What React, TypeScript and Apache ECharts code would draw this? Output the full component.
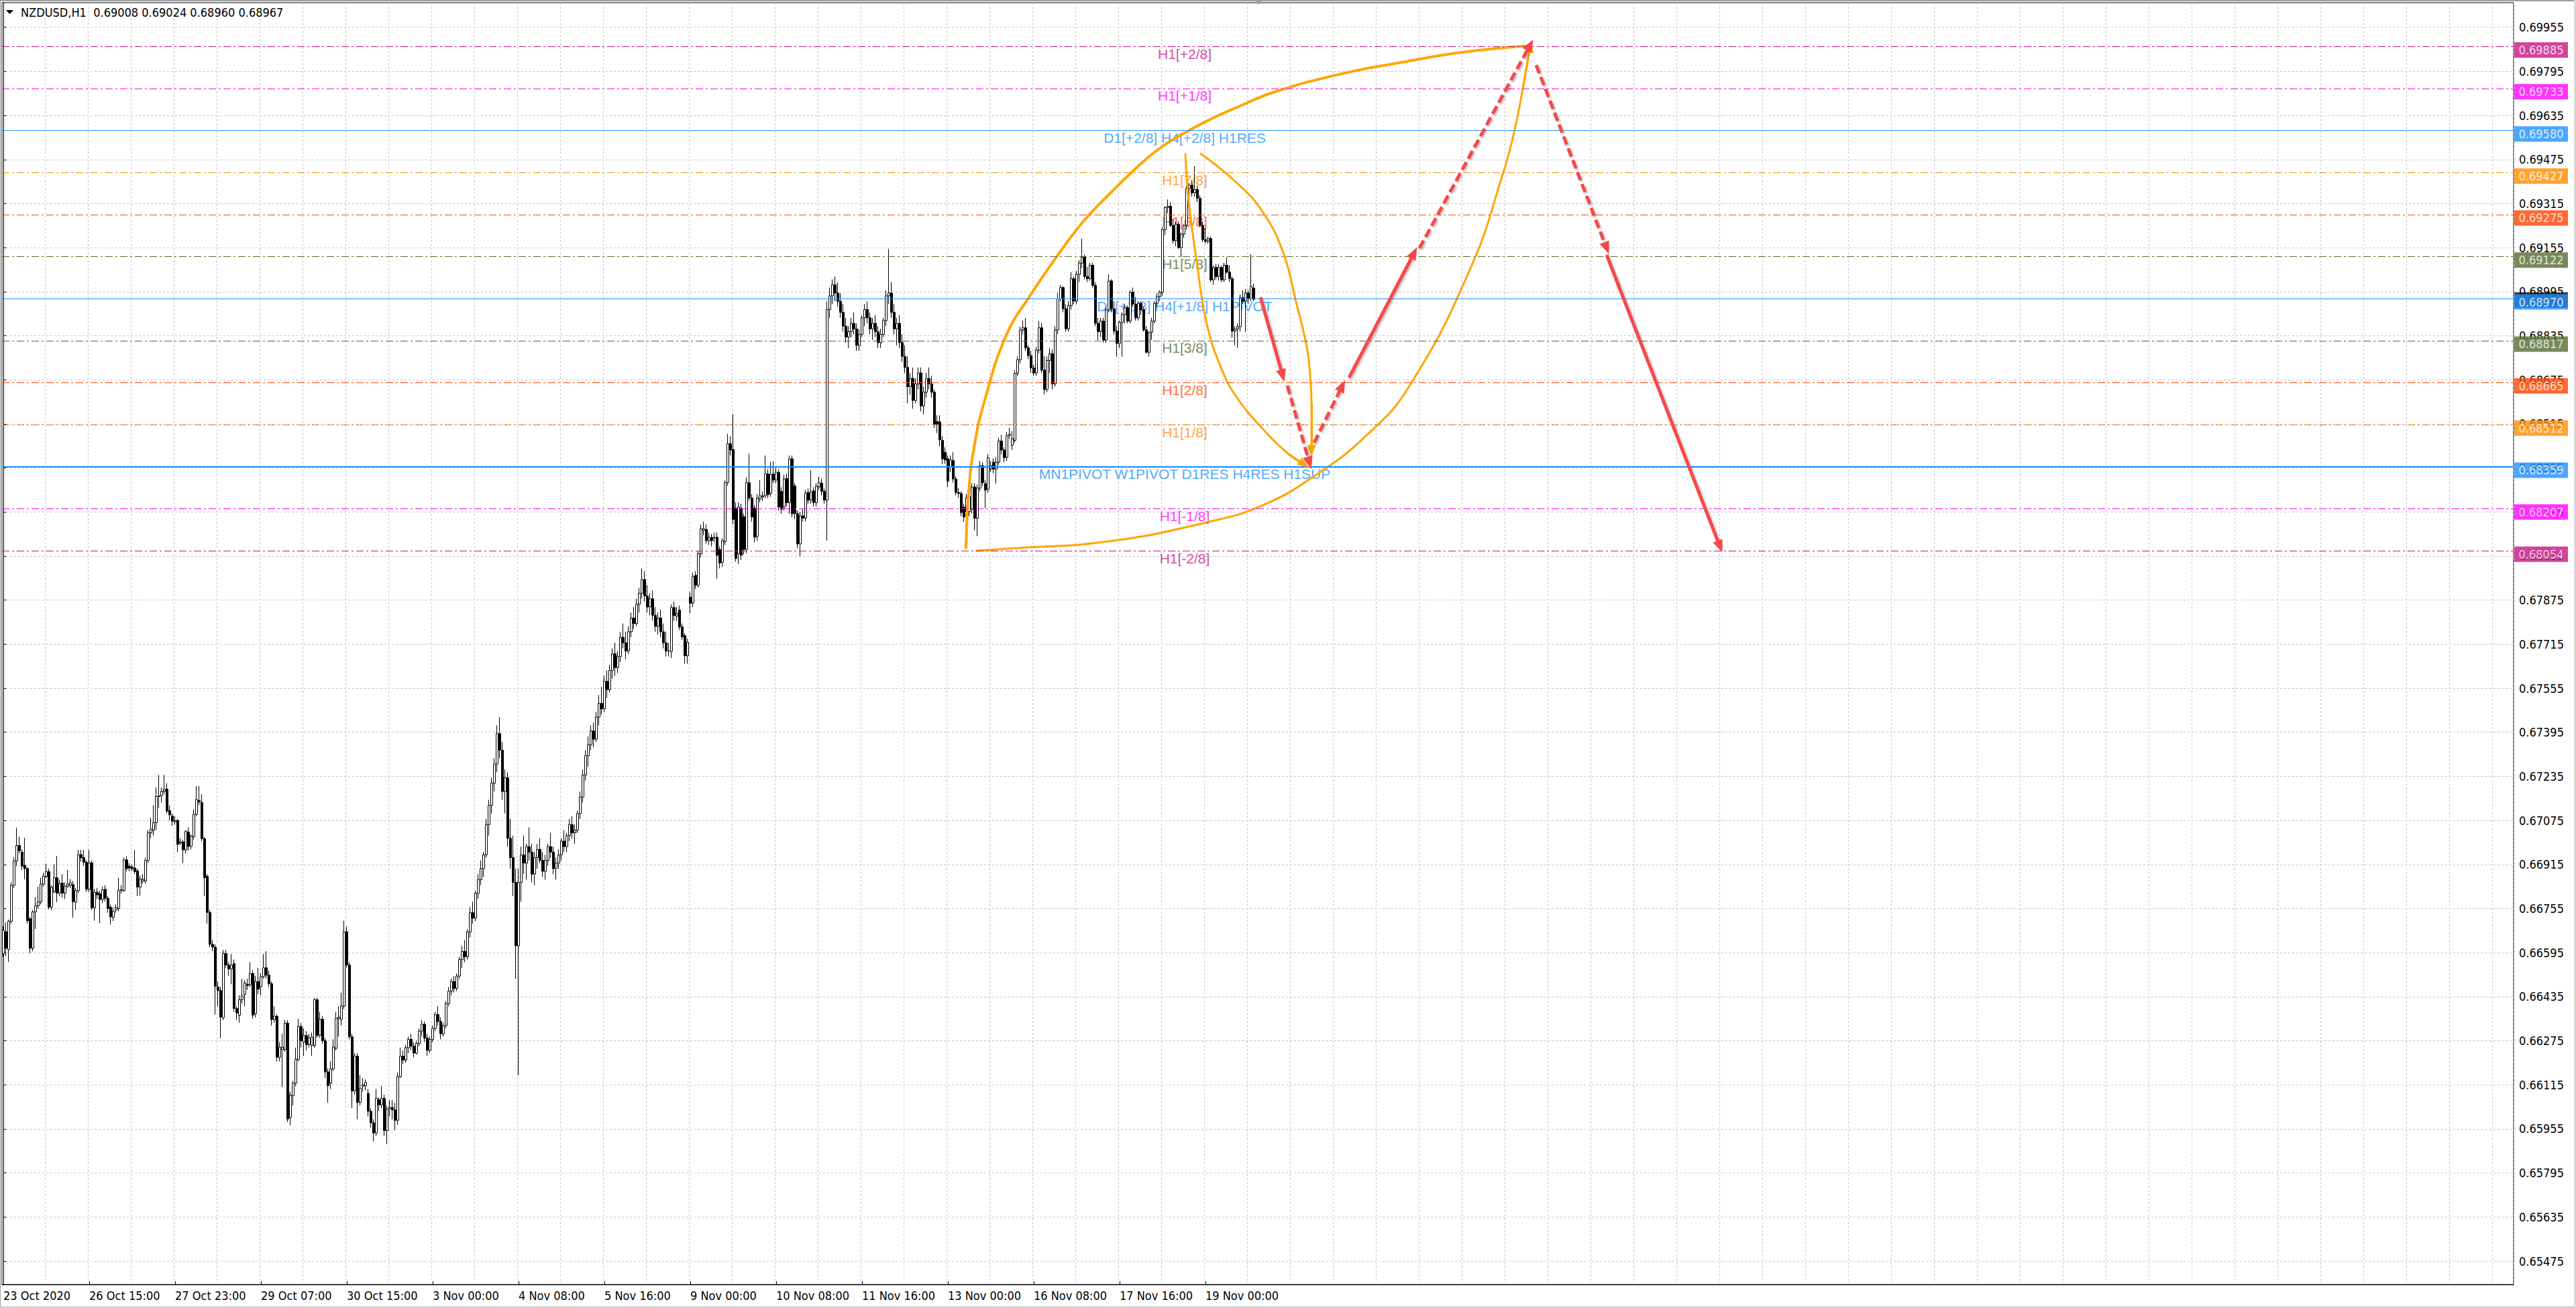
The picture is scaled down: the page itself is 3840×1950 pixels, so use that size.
import React, { useEffect, useRef } from 'react';
import * as echarts from 'echarts';

// ---------- DATA (prices in 1e-5 units: [open, high, low, close]) ----------
// 23 Oct 07:00 .. 2 Nov (bars 0-148)
const barsOct = [
  [66592,66690,66580,66676],[66671,66704,66583,66611],[66606,66715,66561,66709],[66709,66850,66700,66839],
  [66839,66942,66830,66928],[66928,67049,66909,66984],[66984,67016,66955,66965],[66960,66970,66895,66909],
  [66912,67012,66862,66900],[66900,66905,66700,66711],[66718,66725,66592,66611],[66611,66750,66600,66743],
  [66743,66797,66681,66765],[66765,66834,66755,66779],[66779,66867,66770,66844],[66844,66885,66835,66872],
  [66872,66918,66865,66889],[66889,66900,66752,66760],[66760,66840,66750,66833],[66816,66916,66810,66867],
  [66867,66946,66779,66811],[66811,66860,66800,66846],[66848,66880,66795,66811],[66811,66850,66790,66836],
  [66836,66895,66830,66844],[66839,66862,66830,66848],[66842,66855,66722,66780],[66778,66830,66750,66820],
  [66820,66968,66812,66951],[66951,66968,66925,66939],[66940,66968,66910,66923],[66923,66930,66815,66825],
  [66825,66968,66815,66921],[66921,66930,66750,66758],[66758,66825,66711,66814],[66814,66830,66790,66805],
  [66809,66820,66702,66788],[66788,66835,66775,66823],[66825,66840,66780,66792],[66792,66800,66740,66755],
  [66760,66770,66697,66725],[66723,66760,66710,66745],[66750,66770,66740,66758],[66755,66867,66745,66822],
  [66821,66840,66810,66823],[66821,66940,66815,66932],[66932,66945,66890,66900],[66909,66920,66890,66902],
  [66906,66915,66890,66900],[66902,66968,66880,66889],[66892,66900,66800,66833],[66833,66875,66802,66862],
  [66855,66880,66845,66862],[66855,66940,66845,66930],[66930,67040,66920,67030],[67030,67085,67010,67043],
  [67040,67130,67020,67067],[67067,67195,67040,67162],[67162,67240,67120,67165],[67165,67195,67140,67181],
  [67181,67240,67170,67189],[67189,67210,67100,67109],[67111,67130,67075,67095],[67091,67100,67055,67072],
  [67070,67090,67060,67074],[67075,67080,66960,66988],[66993,67010,66985,66997],[66997,67005,66920,66968],
  [66968,67040,66955,67035],[67033,67050,66965,66981],[66981,67025,66970,67018],[67016,67115,67005,67097],
  [67097,67200,67090,67151],[67147,67200,67130,67142],[67140,67170,67000,67009],[67009,67015,66800,66867],
  [66872,66880,66700,66741],[66741,66750,66615,66625],[66625,66640,66600,66615],[66615,66625,66370,66473],
  [66470,66490,66400,66457],[66457,66470,66285,66361],[66359,66605,66350,66592],[66592,66605,66540,66550],
  [66550,66560,66510,66536],[66536,66590,66480,66550],[66555,66570,66380,66392],[66392,66400,66350,66376],
  [66368,66440,66340,66424],[66424,66500,66410,66438],[66443,66495,66400,66485],[66480,66500,66460,66476],
  [66478,66560,66470,66519],[66519,66530,66355,66368],[66373,66510,66360,66490],[66490,66540,66445,66462],
  [66471,66520,66440,66508],[66508,66590,66500,66540],[66540,66600,66500,66513],[66513,66530,66470,66482],
  [66482,66490,66330,66352],[66352,66400,66340,66364],[66364,66370,66200,66215],[66215,66270,66200,66252],
  [66243,66300,66107,66252],[66243,66350,66235,66339],[66339,66350,65980,65991],[65996,66090,65968,66078],
  [66075,66130,66040,66121],[66121,66250,66110,66208],[66206,66355,66200,66327],[66327,66340,66250,66275],
  [66270,66320,66220,66294],[66294,66310,66240,66261],[66261,66300,66250,66286],[66258,66305,66220,66289],
  [66257,66430,66250,66424],[66424,66430,66285,66294],[66294,66380,66285,66353],[66353,66365,66265,66275],
  [66275,66285,66140,66162],[66162,66175,66050,66112],[66121,66200,66100,66173],[66173,66280,66165,66252],
  [66247,66380,66240,66357],[66355,66400,66290,66361],[66352,66450,66330,66401],[66401,66711,66390,66671],
  [66671,66690,66540,66550],[66550,66560,66280,66289],[66289,66300,66030,66093],[66093,66230,66080,66219],
  [66219,66230,65990,66051],[66051,66150,66040,66103],[66110,66140,66090,66115],[66111,66135,66095,66124],
  [66084,66100,66000,66019],[66019,66030,65960,65977],[65977,65990,65910,65940],[65940,66100,65930,66066],
  [66061,66070,66020,66042],[66042,66110,66030,66066],[66066,66080,65930,65949],[65949,66040,65900,66028],
  [66028,66060,66000,66033],[66033,66060,65990,66024],[66024,66050,65950,65986],[65986,66160,65970,66145],
  [66145,66250,66140,66219],
];
// 2 Nov .. 6 Nov (bars 149-248)
const barsElection = [
  [66219,66240,66190,66205],[66205,66260,66195,66250],[66250,66290,66230,66280],[66280,66300,66240,66255],
  [66255,66270,66215,66230],[66230,66275,66225,66265],[66265,66320,66255,66310],[66310,66350,66290,66335],
  [66335,66345,66270,66285],[66285,66300,66220,66240],[66240,66290,66230,66280],[66280,66330,66270,66320],
  [66320,66380,66310,66370],[66370,66400,66330,66345],[66345,66360,66280,66300],[66300,66340,66290,66330],
  [66330,66420,66320,66410],[66410,66470,66400,66455],[66455,66500,66440,66490],[66490,66510,66450,66465],
  [66465,66520,66455,66510],[66510,66580,66500,66570],[66570,66620,66540,66600],[66600,66640,66560,66580],
  [66580,66680,66570,66670],[66670,66760,66650,66740],[66740,66780,66700,66720],[66720,66820,66710,66810],
  [66810,66880,66790,66860],[66860,66930,66840,66900],[66900,66960,66870,66950],[66950,67080,66940,67060],
  [67060,67150,67020,67130],[67130,67230,67100,67210],[67210,67300,67180,67280],[67280,67420,67250,67390],
  [67390,67450,67300,67330],[67330,67360,67150,67180],[67180,67260,67100,67230],[67230,67250,66980,67010],
  [67010,67080,66900,66940],[66940,67020,66800,66850],[66850,66900,66500,66620],[66620,66900,66150,66850],
  [66850,66980,66780,66950],[66950,67020,66880,66920],[66920,66990,66860,66980],[66980,67050,66930,66960],
  [66960,66990,66850,66880],[66880,66960,66840,66940],[66940,66990,66900,66970],[66970,67010,66920,66930],
  [66930,66960,66870,66890],[66890,66950,66860,66930],[66930,66990,66910,66980],[66980,67030,66940,66960],
  [66960,66980,66880,66900],[66900,66940,66860,66920],[66920,66970,66900,66950],[66950,67010,66930,67000],
  [67000,67040,66960,66980],[66980,67030,66960,67020],[67020,67080,67000,67060],[67060,67090,67010,67030],
  [67030,67060,66990,67040],[67040,67110,67030,67100],[67100,67180,67080,67160],[67160,67260,67140,67240],
  [67240,67330,67220,67310],[67310,67380,67270,67350],[67350,67420,67330,67400],[67400,67430,67340,67370],
  [67370,67470,67360,67450],[67450,67530,67420,67500],[67500,67560,67460,67480],[67480,67600,67470,67580],
  [67580,67620,67520,67550],[67550,67640,67540,67620],[67620,67700,67590,67680],[67680,67720,67600,67630],
  [67630,67690,67610,67670],[67670,67760,67650,67740],[67740,67790,67700,67720],[67720,67760,67660,67690],
  [67690,67780,67680,67760],[67760,67830,67740,67810],[67810,67850,67770,67790],[67790,67880,67780,67860],
  [67860,67920,67830,67900],[67900,67990,67880,67950],[67950,67980,67870,67890],[67890,67930,67830,67850],
  [67850,67900,67820,67880],[67880,67910,67800,67820],[67820,67850,67760,67780],[67780,67830,67750,67810],
  [67810,67840,67740,67760],[67760,67790,67700,67720],[67720,67760,67670,67690],[67690,67720,67670,67690],
];
// 6 Nov .. 12 Nov (bars 249-346)
const barsVaccine = [
  [67689,67860,67665,67848],[67848,67870,67800,67819],[67817,67850,67800,67827],[67839,67855,67766,67778],
  [67778,67790,67730,67742],[67746,67755,67644,67673],[67673,67735,67644,67722],[67886,67904,67827,67864],
  [67864,67975,67850,67961],[67965,67980,67915,67929],[67929,68055,67920,68043],[68043,68150,68030,68134],
  [68128,68160,68110,68134],[68132,68150,68080,68091],[68091,68120,68075,68103],[68103,68115,68070,68091],
  [68101,68120,68085,68103],[68103,68120,67953,68038],[68059,68070,67990,68010],[68012,68100,67995,68091],
  [68087,68310,68075,68302],[68302,68479,68290,68443],[68443,68470,68400,68420],[68422,68550,68150,68168],
  [68209,68230,68014,68026],[68043,68230,68006,68213],[68209,68225,68020,68038],[68178,68190,68040,68059],
  [68059,68320,68045,68302],[68301,68407,68235,68246],[68246,68260,68160,68177],[68209,68220,68085,68103],
  [68107,68260,68090,68246],[68242,68311,68230,68254],[68250,68270,68235,68254],[68254,68400,68245,68335],
  [68333,68350,68245,68258],[68262,68377,68250,68331],[68333,68379,68300,68311],[68311,68355,68300,68339],
  [68339,68350,68200,68213],[68270,68285,68189,68205],[68213,68330,68200,68315],[68317,68335,68215,68229],
  [68229,68400,68189,68388],[68388,68400,68175,68189],[68290,68300,68170,68189],[68189,68200,68063,68079],
  [68079,68195,68034,68181],[68181,68205,68160,68173],[68173,68275,68160,68264],[68266,68280,68225,68238],
  [68238,68347,68225,68268],[68272,68285,68215,68229],[68229,68300,68215,68288],[68286,68323,68275,68302],
  [68300,68315,68255,68270],[68270,68280,68225,68238],[68238,68960,68091,68930],[68930,69010,68900,68980],
  [68980,69040,68950,69020],[69020,69050,68960,68990],[68990,69030,68940,68960],[68960,68990,68900,68920],
  [68920,68950,68850,68870],[68870,68900,68810,68830],[68830,68870,68790,68850],[68850,68900,68830,68880],
  [68880,68920,68840,68860],[68860,68880,68780,68800],[68800,68860,68780,68840],[68840,68910,68830,68900],
  [68900,68950,68870,68930],[68930,68960,68880,68900],[68900,68920,68840,68860],[68860,68900,68820,68880],
  [68880,68910,68830,68850],[68850,68870,68790,68810],[68810,68860,68790,68840],[68840,68900,68830,68890],
  [68890,69000,68870,68980],[68980,69150,68950,68990],[68990,69030,68900,68920],[68920,68950,68840,68860],
  [68860,68900,68800,68880],[68880,68910,68790,68810],[68810,68840,68740,68760],[68760,68800,68700,68720],
  [68720,68760,68590,68650],[68650,68700,68620,68680],[68680,68720,68570,68600],[68600,68680,68590,68660],
  [68660,68720,68640,68700],[68700,68720,68560,68580],[68580,68650,68550,68630],[68630,68700,68610,68680],
  [68680,68720,68640,68660],[68660,68690,68610,68630],
];
// 12 Nov .. 19 Nov 18:00 (bars 347-466)
const barsNov = [
  [68630,68640,68500,68514],[68524,68546,68481,68514],[68522,68546,68433,68457],[68455,68470,68368,68388],
  [68412,68430,68370,68384],[68388,68400,68286,68307],[68359,68400,68340,68384],[68382,68412,68302,68315],
  [68315,68325,68255,68266],[68266,68282,68246,68262],[68262,68270,68180,68193],[68213,68225,68160,68177],
  [68197,68260,68067,68246],[68197,68270,68180,68250],[68205,68300,68190,68286],[68286,68300,68128,68172],
  [68172,68295,68107,68282],[68282,68380,68270,68363],[68363,68375,68290,68302],[68298,68310,68209,68274],
  [68278,68405,68265,68392],[68351,68380,68340,68363],[68376,68390,68335,68351],[68351,68395,68298,68376],
  [68376,68465,68365,68453],[68453,68475,68405,68420],[68420,68430,68375,68392],[68394,68485,68380,68473],
  [68473,68500,68460,68477],[68437,68489,68420,68461],[68455,68710,68445,68699],[68699,68760,68690,68748],
  [68748,68868,68735,68856],[68856,68890,68840,68864],[68864,68900,68780,68791],[68791,68800,68750,68763],
  [68763,68780,68700,68718],[68718,68730,68690,68700],[68700,68795,68690,68783],[68783,68888,68770,68864],
  [68864,68880,68700,68710],[68710,68760,68622,68640],[68640,68760,68630,68745],[68745,68790,68700,68770],
  [68770,68785,68640,68660],[68660,68870,68650,68856],[68856,68990,68840,68969],[68969,69020,68960,69010],
  [69010,69015,68920,68933],[68933,68950,68850,68860],[68860,68960,68850,68945],[68945,69066,68930,69042],
  [69042,69050,68950,68961],[68961,69070,68950,69058],[69058,69110,69030,69099],[69099,69188,69080,69120],
  [69120,69130,69040,69050],[69050,69085,69030,69042],[69042,69100,69035,69091],[69091,69100,69010,69018],
  [69018,69030,68870,68880],[68880,68900,68819,68850],[68850,68900,68830,68888],[68888,68900,68810,68819],
  [68819,68940,68810,68929],[68929,69058,68920,69034],[69034,69040,68920,68933],[68933,68960,68840,68852],
  [68852,68870,68759,68807],[68807,68890,68790,68884],[68884,68920,68759,68912],[68912,68950,68880,68937],
  [68937,68945,68880,68888],[68888,69000,68880,68993],[68993,69010,68940,68950],[68950,68975,68890,68900],
  [68900,68960,68890,68953],[68953,68960,68910,68930],[68930,68940,68850,68856],[68856,68870,68770,68775],
  [68775,68850,68759,68848],[68848,68900,68820,68888],[68888,68960,68880,68953],[68953,68990,68940,68977],
  [68977,69000,68960,68993],[68993,69230,68980,69220],[69220,69305,69200,69301],[69301,69330,69280,69305],
  [69305,69320,69230,69236],[69236,69260,69170,69180],[69180,69250,69160,69240],[69240,69250,69150,69155],
  [69155,69210,69120,69204],[69204,69240,69190,69236],[69236,69380,69220,69370],[69370,69390,69320,69382],
  [69382,69400,69340,69354],[69354,69451,69340,69366],[69366,69380,69320,69334],[69334,69345,69230,69236],
  [69236,69250,69175,69184],[69184,69225,69170,69178],[69178,69195,69170,69188],[69188,69195,69030,69038],
  [69038,69090,69020,69083],[69083,69095,69040,69050],[69050,69095,69035,69083],[69083,69090,69030,69038],
  [69038,69100,69030,69091],[69091,69120,69060,69066],[69066,69090,69030,69042],[69042,69050,68827,68852],
  [68852,68870,68800,68860],[68860,68880,68791,68868],[68868,68985,68850,68973],[68973,69000,68950,68960],
  [68960,69005,68848,68990],[68990,69000,68950,68969],[68969,69131,68960,69014],[69008,69024,68960,68967],
];

const timeLabels = ['23 Oct 2020','26 Oct 15:00','27 Oct 23:00','29 Oct 07:00','30 Oct 15:00','3 Nov 00:00',
  '4 Nov 08:00','5 Nov 16:00','9 Nov 00:00','10 Nov 08:00','11 Nov 16:00','13 Nov 00:00','16 Nov 08:00',
  '17 Nov 16:00','19 Nov 00:00'];

const priceTicks = [0.65475,0.65635,0.65795,0.65955,0.66115,0.66275,0.66435,0.66595,0.66755,0.66915,
  0.67075,0.67235,0.67395,0.67555,0.67715,0.67875,0.68035,0.68195,0.68355,0.68515,0.68675,0.68835,
  0.68995,0.69155,0.69315,0.69475,0.69635,0.69795,0.69955];

const levelPrices = [0.69885,0.69733,0.69580,0.69427,0.69275,0.69122,0.68970,0.68817,0.68665,0.68512,0.68359,0.68207,0.68054];
const levelNames = ['H1[+2/8]','H1[+1/8]','D1[+2/8] H4[+2/8] H1RES','H1[7/8]','H1[6/8]','H1[5/8]',
  'D1[+1/8] H4[+1/8] H1PIVOT','H1[3/8]','H1[2/8]','H1[1/8]','MN1PIVOT W1PIVOT D1RES H4RES H1SUP','H1[-1/8]','H1[-2/8]'];
const levelColors = ['#C71585','#FF00FF','#1E90FF','#FF8C00','#FF4500','#556B2F','#1E90FF','#556B2F','#FF4500','#FF8C00','#1E90FF','#FF00FF','#C71585'];
const levelKinds = ['dashdot','dashdot','solid','dashdot','dashdot','dashdot','solid','dashdot','dashdot','dashdot','solidBold','dashdot','dashdot'];
const bidPrice = 0.68967;
const headerText = 'NZDUSD,H1  0.69008 0.69024 0.68960 0.68967';

// hand-drawn objects, anchored as [bar index, price]
const curveOuterLeft = [[358.75,0.680642],[359.75,0.682688],[361.75,0.684295],[365.5,0.685927],[373.75,0.688363],
  [383.25,0.689897],[393,0.691286],[402.5,0.692504],[412,0.693478],[421.5,0.694379],[431.25,0.695183],
  [440.75,0.695743],[450.25,0.69623],[459.75,0.696644],[473.75,0.697205],[498.75,0.697862],[521,0.698276],
  [543.5,0.698642],[569,0.698885]];
const curveOuterRight = [[362.5,0.680544],[373.75,0.680618],[412,0.680885],[450.25,0.681616],[469.5,0.682201],
  [488.5,0.683248],[507.75,0.684709],[523.75,0.686487],[546.75,0.690798],[559,0.694282],[563.25,0.695841],
  [566.25,0.697326],[569,0.698837]];
const curveInnerLeft = [[440.5,0.694939],[441.75,0.693234],[444.5,0.691213],[448.5,0.688777],[454,0.687145],
  [459.75,0.686098],[469.5,0.684953],[479,0.684052],[484.75,0.683686]];
const curveInnerRight = [[446.25,0.694964],[459.75,0.693892],[469.5,0.69282],[477,0.691359],[481.75,0.68958],
  [485.75,0.687949],[487,0.686902],[487.5,0.685927],[487.5,0.684174]];
const arrowFrom = [[468.5,0.689751],[478.5,0.686536],[488.5,0.684466],[501.5,0.686829],[527.75,0.69153],[571.25,0.698179],[597.5,0.691286]];
const arrowTo = [[476.75,0.686902],[486.75,0.683735],[499,0.686536],[525.75,0.691359],[569,0.69891],[597.5,0.69153],[639.75,0.680691]];
const arrowDashed = [false,true,true,false,true,true,false];

// ---------- CHART ----------
const SLOTS = 936;
const Y_MIN = 0.653898;
const Y_MAX = 0.700444;
const FONT = '"DejaVu Sans Condensed", "DejaVu Sans", sans-serif';
const LABEL_FONT = '"Liberation Sans", Arial, sans-serif';
const ORANGE = '#FFA500';
const RED = '#F54848';

export default function App() {
  const ref = useRef<HTMLDivElement>(null);

  useEffect(() => {
    if (!ref.current) return;
    const chart = echarts.init(ref.current, null, { renderer: 'svg' });
    const bars = [...barsOct, ...barsElection, ...barsVaccine, ...barsNov];
    const candleData = bars.map(([o, h, l, c]) => [o / 1e5, c / 1e5, l / 1e5, h / 1e5]);
    const categories = Array.from({ length: SLOTS }, (_, i) => String(i));
    const lastLabelIdx = (timeLabels.length - 1) * 32;

    const curveSeries = (pts: number[][], width: number, arrow: boolean) => ({
      type: 'line', xAxisIndex: 1, yAxisIndex: 0, z: 4, silent: true,
      data: pts, smooth: 0.45, showSymbol: false, symbol: 'none',
      lineStyle: { color: ORANGE, width, cap: 'round' },
      markLine: arrow ? {
        silent: true, precision: 6, symbol: ['none', 'triangle'], symbolSize: [13, 17],
        label: { show: false },
        lineStyle: { color: ORANGE, width, type: 'solid' },
        data: [[{ coord: pts[pts.length - 2] }, { coord: pts[pts.length - 1] }]],
      } : undefined,
    });

    const option: any = {
      animation: false,
      backgroundColor: '#ffffff',
      title: {
        text: headerText, left: 31, top: 9, padding: 0,
        textStyle: { fontFamily: FONT, fontSize: 18, fontWeight: 'normal', color: '#000' },
      },
      grid: {
        left: 3, right: 93, top: 4, bottom: 35, show: true, borderColor: '#000', borderWidth: 1,
        backgroundColor: '#fff', containLabel: false, outerBoundsMode: 'none',
      },
      xAxis: [
        {
          type: 'category', data: categories, boundaryGap: true,
          axisLine: { show: true, lineStyle: { color: '#000', width: 1 } },
          axisTick: {
            show: true, inside: true, length: 5, alignWithLabel: true,
            interval: (i: number) => i % 32 === 0 && i <= lastLabelIdx,
            lineStyle: { color: '#000' },
          },
          axisLabel: {
            show: true, align: 'left', margin: 7,
            interval: (i: number) => i % 32 === 0 && i <= lastLabelIdx,
            formatter: (_v: string, i: number) => timeLabels[i / 32] ?? '',
            fontFamily: FONT, fontSize: 18, color: '#000',
          },
          splitLine: {
            show: true, interval: (i: number) => i % 16 === 0 && i > 0,
            lineStyle: { color: '#c4c4c4', type: [3, 3], width: 1 },
          },
        },
        { type: 'value', min: -0.5, max: SLOTS - 0.5, show: false, splitLine: { show: false } },
      ],
      yAxis: {
        type: 'value', position: 'right', min: Y_MIN, max: Y_MAX,
        axisLine: { show: true, lineStyle: { color: '#000', width: 1 } },
        axisTick: { show: true, customValues: priceTicks, length: 4, lineStyle: { color: '#000' } },
        axisLabel: {
          customValues: priceTicks, formatter: (v: number) => v.toFixed(5), margin: 8,
          fontFamily: FONT, fontSize: 18, color: '#000',
        },
        splitLine: { show: true, lineStyle: { color: '#c4c4c4', type: [3, 3], width: 1 } },
      },
      graphic: [
        { type: 'rect', shape: { x: 0, y: 0, width: 3840, height: 2 }, style: { fill: '#a0a0a0' }, silent: true },
        { type: 'rect', shape: { x: 0, y: 0, width: 1, height: 1950 }, style: { fill: '#a0a0a0' }, silent: true },
        { type: 'rect', shape: { x: 3837, y: 0, width: 3, height: 1950 }, style: { fill: '#d8d8d8' }, silent: true },
        { type: 'rect', shape: { x: 0, y: 1947, width: 3840, height: 3 }, style: { fill: '#d8d8d8' }, silent: true },
        { type: 'polygon', shape: { points: [[1869, 0], [1883, 0], [1876, 7]] }, style: { fill: '#a0a0a0' }, silent: true },
        { type: 'polygon', shape: { points: [[9, 15], [20, 15], [14.5, 21]] }, style: { fill: '#000' }, silent: true },
      ],
      series: [
        // level lines
        {
          type: 'line', xAxisIndex: 1, yAxisIndex: 0, z: 1, silent: true,
          data: [[0, levelPrices[0]]], showSymbol: false, symbol: 'none', lineStyle: { opacity: 0 },
          markLine: {
            silent: true, precision: 6, symbol: 'none', label: { show: false },
            data: levelPrices.map((p, k) => ({
              yAxis: p,
              lineStyle: {
                color: levelColors[k],
                width: levelKinds[k] === 'solidBold' ? 2 : 1,
                type: levelKinds[k] === 'dashdot' ? [11, 4, 3, 4] : 'solid',
              },
            })),
          },
        },
        // level texts
        {
          type: 'scatter', xAxisIndex: 1, yAxisIndex: 0, z: 1, silent: true,
          symbolSize: 1, itemStyle: { color: 'rgba(0,0,0,0)' },
          data: levelPrices.map((p, k) => ({
            name: levelNames[k], value: [440.25, p],
            label: { color: levelColors[k] },
          })),
          label: {
            show: true, position: 'bottom', distance: 0, formatter: '{b}',
            fontFamily: LABEL_FONT, fontSize: 21,
          },
        },
        // candles
        {
          type: 'candlestick', xAxisIndex: 0, yAxisIndex: 0, z: 3, silent: true,
          data: candleData, barWidth: 3,
          itemStyle: { color: '#ffffff', color0: '#000000', borderColor: '#000000', borderColor0: '#000000', borderWidth: 1 },
        },
        // orange curves
        curveSeries(curveOuterLeft, 4, false),
        curveSeries(curveOuterRight, 3, true),
        curveSeries(curveInnerLeft, 3, true),
        curveSeries(curveInnerRight, 3, true),
        // red arrows
        {
          type: 'line', xAxisIndex: 1, yAxisIndex: 0, z: 5, silent: true,
          data: [], showSymbol: false,
          markLine: {
            silent: true, precision: 6, symbol: ['none', 'triangle'], symbolSize: [15, 19],
            label: { show: false },
            itemStyle: { color: RED },
            data: arrowFrom.map((f, k) => [
              {
                coord: f,
                lineStyle: {
                  color: RED, width: 5, type: arrowDashed[k] ? [13, 6] : 'solid',
                  shadowColor: 'rgba(0,0,0,0.25)', shadowBlur: 3, shadowOffsetX: 2, shadowOffsetY: 2,
                },
              },
              { coord: arrowTo[k] },
            ]),
          },
        },
        // right price boxes
        {
          type: 'scatter', xAxisIndex: 1, yAxisIndex: 0, z: 6, silent: true, clip: false,
          symbol: 'rect', symbolSize: [80, 23],
          data: [
            { value: [SLOTS - 0.5, bidPrice], symbolOffset: [41, 1], itemStyle: { color: '#000' }, label: { show: false } },
            ...levelPrices.map((p, k) => ({
              value: [SLOTS - 0.5, p], symbolOffset: [41, 5], itemStyle: { color: levelColors[k] },
            })),
          ],
          label: {
            show: true, position: 'inside', color: '#fff',
            formatter: (prm: any) => prm.value[1].toFixed(5),
            fontFamily: FONT, fontSize: 18,
          },
        },
      ],
    };

    chart.setOption(option);
    return () => chart.dispose();
  }, []);

  return (
    <div
      ref={ref}
      style={{ position: 'fixed', left: 0, top: 0, width: 3840, height: 1950, background: '#fff' }}
    />
  );
}
